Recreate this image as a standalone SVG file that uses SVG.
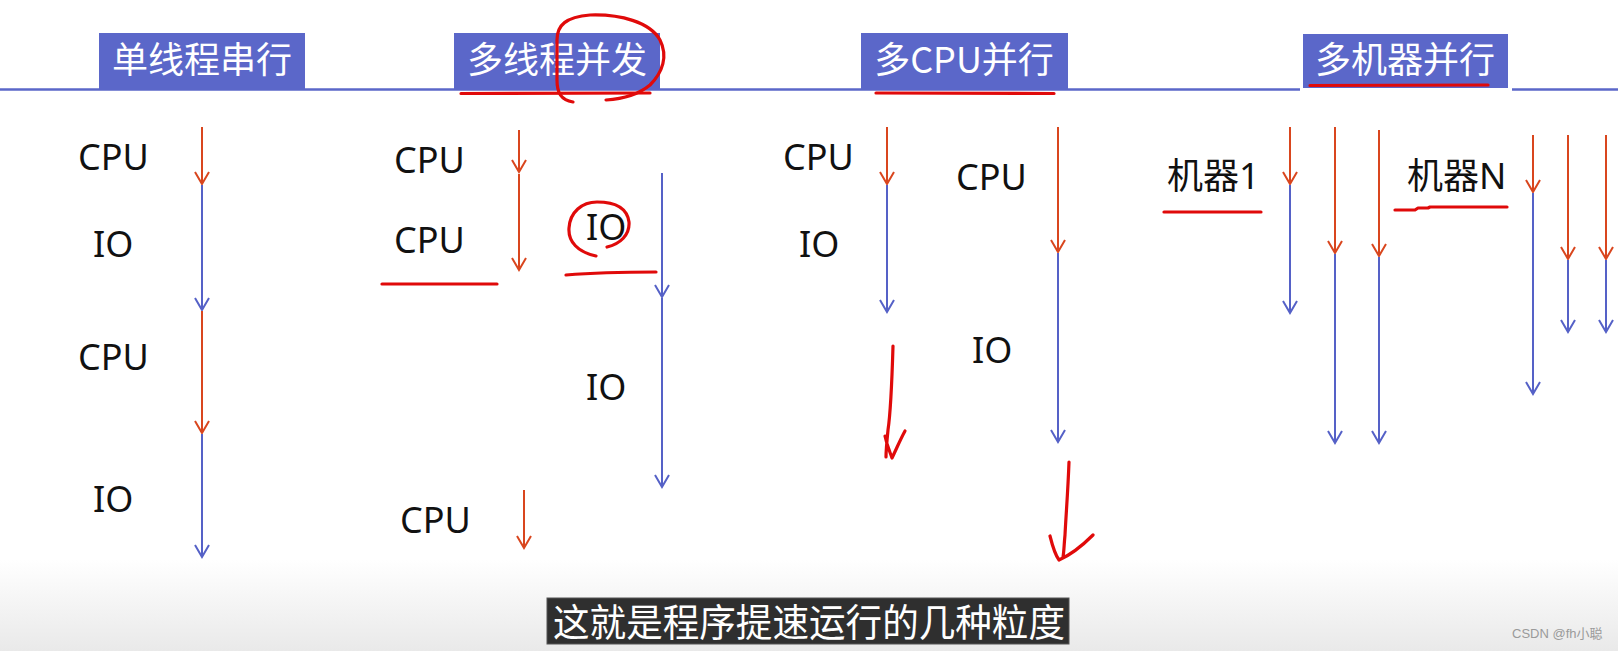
<svg xmlns="http://www.w3.org/2000/svg" width="1618" height="651" viewBox="0 0 1618 651">
<style>
.hdr{fill:#5b67c9}
.ht{font-family:"Noto Sans CJK SC","Noto Sans",sans-serif;font-size:36px;fill:#ffffff;text-anchor:middle}
.lb{font-family:"Noto Sans","Noto Sans CJK SC",sans-serif;font-size:36px;fill:#111111}
.r{stroke:#d9461e;stroke-width:2;fill:none;marker-end:url(#mr)}
.b{stroke:#5561c7;stroke-width:2;fill:none;marker-end:url(#mb)}
.hand{stroke:#e00a0a;stroke-width:3.2;fill:none;stroke-linecap:round;stroke-linejoin:round}
</style>
<defs>
<marker id="mr" markerUnits="userSpaceOnUse" markerWidth="20" markerHeight="20" viewBox="-16 -10 20 20" refX="0" refY="0" orient="auto"><path d="M-12,-7 L0,0 L-12,7" fill="none" stroke="#d9461e" stroke-width="2"/></marker>
<marker id="mb" markerUnits="userSpaceOnUse" markerWidth="20" markerHeight="20" viewBox="-16 -10 20 20" refX="0" refY="0" orient="auto"><path d="M-12,-7 L0,0 L-12,7" fill="none" stroke="#5561c7" stroke-width="2"/></marker>
<linearGradient id="bg" x1="0" y1="0" x2="0" y2="1"><stop offset="0" stop-color="#ffffff"/><stop offset="1" stop-color="#e9e9e9"/></linearGradient>
</defs>
<rect x="0" y="0" width="1618" height="651" fill="#ffffff"/>
<rect x="0" y="560" width="1618" height="91" fill="url(#bg)"/>

<g id="baseline">
<line x1="0" y1="89.5" x2="1300" y2="89.5" stroke="#5b67c9" stroke-width="2.5"/>
<line x1="1512" y1="89.5" x2="1618" y2="89.5" stroke="#5b67c9" stroke-width="2.5"/>
</g>

<g id="hdr1"><rect class="hdr" x="99" y="33" width="206" height="56"/><text class="ht" x="202" y="73">单线程串行</text></g>
<g id="hdr2"><rect class="hdr" x="454" y="33" width="206" height="56"/><text class="ht" x="557" y="73">多线程并发</text></g>
<g id="hdr3"><rect class="hdr" x="861" y="33" width="207" height="56"/><text class="ht" x="964" y="73">多CPU并行</text></g>
<g id="hdr4"><rect class="hdr" x="1303" y="34" width="205" height="54"/><text class="ht" x="1405" y="73">多机器并行</text></g>

<g id="labels">
<text class="lb" x="78" y="170">CPU</text>
<text class="lb" x="93" y="257">IO</text>
<text class="lb" x="78" y="370">CPU</text>
<text class="lb" x="93" y="512">IO</text>
<text class="lb" x="394" y="173">CPU</text>
<text class="lb" x="394" y="253">CPU</text>
<text class="lb" x="586" y="240">IO</text>
<text class="lb" x="586" y="400">IO</text>
<text class="lb" x="400" y="533">CPU</text>
<text class="lb" x="783" y="170">CPU</text>
<text class="lb" x="799" y="257">IO</text>
<text class="lb" x="956" y="190">CPU</text>
<text class="lb" x="972" y="363">IO</text>
<text class="lb" x="1167" y="189">机器1</text>
<text class="lb" x="1407" y="189">机器N</text>
</g>

<g id="connectors">
<!-- column 1 -->
<line class="r" x1="202" y1="127" x2="202" y2="184"/>
<line class="b" x1="202" y1="185" x2="202" y2="310"/>
<line class="r" x1="202" y1="311" x2="202" y2="433"/>
<line class="b" x1="202" y1="434" x2="202" y2="557"/>
<!-- column 2 -->
<line class="r" x1="519" y1="130" x2="519" y2="172"/>
<line class="r" x1="519" y1="174" x2="519" y2="270"/>
<line class="b" x1="662" y1="173" x2="662" y2="297"/>
<line class="b" x1="662" y1="298" x2="662" y2="487"/>
<line class="r" x1="524" y1="490" x2="524" y2="548"/>
<!-- column 3 -->
<line class="r" x1="887" y1="127" x2="887" y2="184"/>
<line class="b" x1="887" y1="185" x2="887" y2="312"/>
<line class="r" x1="1058" y1="127" x2="1058" y2="252"/>
<line class="b" x1="1058" y1="253" x2="1058" y2="442"/>
<!-- column 4: machine 1 -->
<line class="r" x1="1290" y1="127" x2="1290" y2="184"/>
<line class="b" x1="1290" y1="185" x2="1290" y2="313"/>
<line class="r" x1="1335" y1="127" x2="1335" y2="253"/>
<line class="b" x1="1335" y1="254" x2="1335" y2="443"/>
<line class="r" x1="1379" y1="130" x2="1379" y2="256"/>
<line class="b" x1="1379" y1="257" x2="1379" y2="443"/>
<!-- column 4: machine N -->
<line class="r" x1="1533" y1="135" x2="1533" y2="192"/>
<line class="b" x1="1533" y1="193" x2="1533" y2="394"/>
<line class="r" x1="1568" y1="135" x2="1568" y2="259"/>
<line class="b" x1="1568" y1="260" x2="1568" y2="332"/>
<line class="r" x1="1606" y1="135" x2="1606" y2="259"/>
<line class="b" x1="1606" y1="260" x2="1606" y2="332"/>
</g>

<g id="annotations">
<!-- header underlines -->
<path class="hand" d="M461,93.5 L650,93"/>
<path class="hand" d="M573,102 C561,100 557,93 557,80 L557,40 C557,25 566,17 590,15 C620,14 650,22 660,40 C668,56 663,72 650,85 C638,95 621,99 606,100"/>
<path class="hand" d="M876,93 L1054,93.5"/>
<path class="hand" d="M1310,85.5 L1488,85"/>
<!-- column 2 marks -->
<path class="hand" d="M382,284 L497,284"/>
<path class="hand" d="M596,256 C578,252 568,242 569,228 C570,212 582,202 597,202 C614,202 627,207 629,222 C630,235 620,244 607,247"/>
<path class="hand" d="M566,275 C590,273 620,272 656,272"/>
<!-- column 4 underlines -->
<path class="hand" d="M1164,212 L1261,212"/>
<path class="hand" d="M1395,210 L1415,210 L1418,208 L1428,208 L1430,207 L1507,207"/>
<!-- hand drawn arrows column 3 -->
<path class="hand" d="M893,346 C892,380 891,410 888,430 C887,440 886,450 886,457 M885,436 C887,446 890,452 892,458 C896,450 900,440 905,431"/>
<path class="hand" d="M1069,462 C1068,490 1066,515 1065,535 C1064,545 1064,552 1063,557 M1050,536 C1053,548 1056,556 1059,560 C1068,556 1082,546 1093,535"/>
</g>

<g id="subtitle">
<rect x="547" y="598" width="522" height="46" fill="#2f2f2f" stroke="#555555" stroke-width="1"/>
<text x="553" y="636" font-family="'Noto Sans CJK SC',sans-serif" font-size="38" textLength="512" lengthAdjust="spacingAndGlyphs" fill="#ffffff">这就是程序提速运行的几种粒度</text>
</g>
<text id="watermark" x="1512" y="638" font-family="'Liberation Sans','Noto Sans CJK SC',sans-serif" font-size="13" fill="#9a9a9a">CSDN @fh小聪</text>
</svg>
